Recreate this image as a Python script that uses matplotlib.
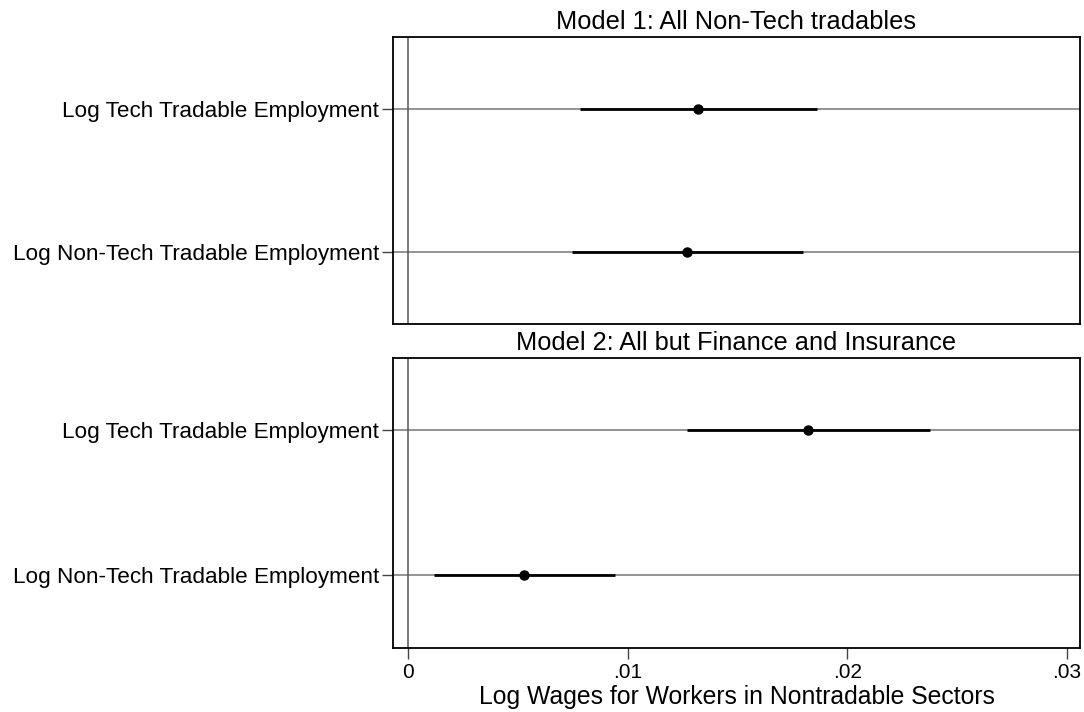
import matplotlib.pyplot as plt

# coefficient estimates and 95% CIs
labels = ["Log Tech Tradable Employment", "Log Non-Tech Tradable Employment"]
titles = ["Model 1: All Non-Tech tradables", "Model 2: All but Finance and Insurance"]

m1_coef = [0.01319, 0.0127]
m1_lo = [0.00781, 0.00746]
m1_hi = [0.0186, 0.01797]

m2_coef = [0.01823, 0.00529]
m2_lo = [0.0127, 0.00118]
m2_hi = [0.02378, 0.00941]

xticks = [0, 0.01, 0.02, 0.03]
xticklabels = ["0", ".01", ".02", ".03"]

plt.rcParams['font.family'] = ['Liberation Sans', 'DejaVu Sans']

fig = plt.figure(figsize=(10.84, 7.12), dpi=100)
ax1 = fig.add_axes([0.3625, 0.545, 0.6338, 0.403])
ax2 = fig.add_axes([0.3625, 0.0899, 0.6338, 0.4073])

models = [(ax1, m1_coef, m1_lo, m1_hi), (ax2, m2_coef, m2_lo, m2_hi)]
ypos = [1, 2]

for i, (ax, coef, lo, hi) in enumerate(models):
    for y in ypos:
        ax.axhline(y, color="#777777", lw=1.1, zorder=1)
    ax.axvline(0, color="#555555", lw=1.1, zorder=1)
    ax.hlines(ypos, lo, hi, color="black", lw=2.0, zorder=2)
    ax.plot(coef, ypos, "o", color="black", ms=6.5, zorder=3)
    ax.set_ylim(2.5, 0.5)
    ax.set_xlim(-0.000683, 0.03059)
    ax.set_yticks(ypos)
    ax.set_yticklabels(labels, fontsize=16.2)
    ax.tick_params(axis="y", length=8, width=1, color="#444444", pad=2)
    ax.set_title(titles[i], fontsize=18.3, pad=6)
    for s in ax.spines.values():
        s.set_linewidth(1.3)
    if i == 0:
        ax.set_xticks([])
    else:
        ax.set_xticks(xticks)
        ax.set_xticklabels(xticklabels, fontsize=15)
        ax.tick_params(axis="x", length=8, width=1, color="#444444", pad=3)
        ax.set_xlabel("Log Wages for Workers in Nontradable Sectors", fontsize=17.8, labelpad=2)

fig.savefig("out.png", dpi=100)
